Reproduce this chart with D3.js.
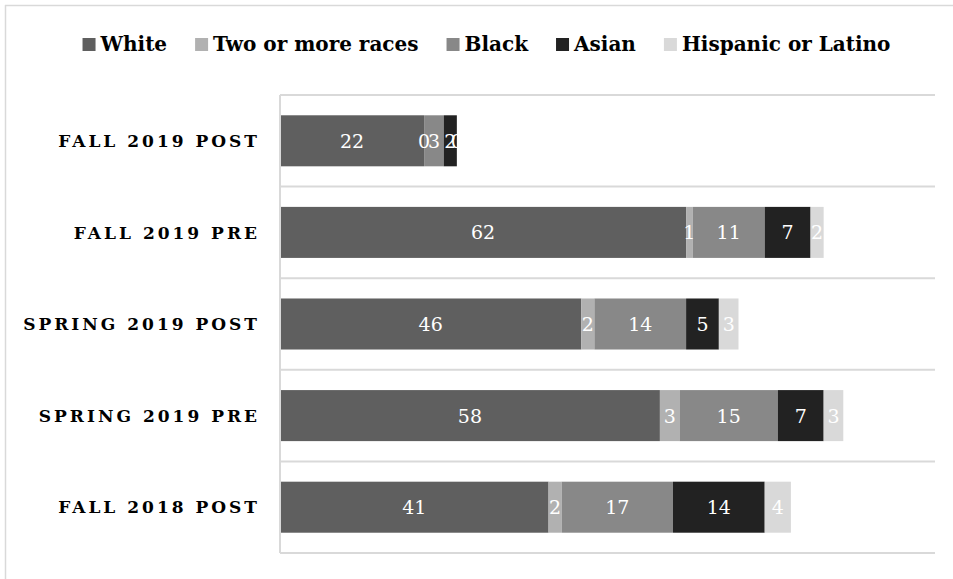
<!DOCTYPE html>
<html><head><meta charset="utf-8">
<script src="https://cdn.jsdelivr.net/npm/d3@7"></script>
<style>html,body{margin:0;padding:0;background:#fff;}svg{display:block;}</style>
</head><body>
<svg id="chart" width="953" height="579"></svg>
<script>
const categories = ["FALL 2019 POST","FALL 2019 PRE","SPRING 2019 POST","SPRING 2019 PRE","FALL 2018 POST"];
const seriesNames = ["White","Two or more races","Black","Asian","Hispanic or Latino"];
const white    = [22, 62, 46, 58, 41];
const twoOrMore= [0, 1, 2, 3, 2];
const black    = [3, 11, 14, 15, 17];
const asian    = [2, 7, 5, 7, 14];
const hispanic = [0, 2, 3, 3, 4];
const colors = ["#5f5f5f","#b1b1b1","#888888","#222222","#d9d9d9"];

const seriesValues = [white, twoOrMore, black, asian, hispanic];
const table = categories.map((c,i)=>{
  const o = {cat:c};
  seriesNames.forEach((s,j)=>o[s]=seriesValues[j][i]);
  return o;
});
const stacked = d3.stack().keys(seriesNames)(table);

const svg = d3.select("#chart");
// outer chart border (partially visible)
svg.append("line").attr("x1",5.5).attr("x2",5.5).attr("y1",5).attr("y2",579).attr("stroke","#d9d9d9").attr("stroke-width",1.5);
svg.append("line").attr("x1",5).attr("x2",953).attr("y1",5.5).attr("y2",5.5).attr("stroke","#d9d9d9").attr("stroke-width",1.5);

const x = d3.scaleLinear().domain([0,100]).range([280,935]);
const y = d3.scaleBand().domain(categories).range([95,553]).paddingInner(0.443).paddingOuter(0.2215);

// gridlines between categories
const step = y.step();
const gridYs = d3.range(categories.length+1).map(i=>95 + i*step);
svg.append("g").selectAll("line").data(gridYs).join("line")
  .attr("x1",280).attr("x2",935).attr("y1",d=>d).attr("y2",d=>d)
  .attr("stroke","#d9d9d9").attr("stroke-width",2);

// bars
const g = svg.append("g");
stacked.forEach((s,j)=>{
  g.append("g").attr("fill",colors[j]).selectAll("rect").data(s).join("rect")
    .attr("x",d=>x(d[0])).attr("width",d=>x(d[1])-x(d[0]))
    .attr("y",d=>y(d.data.cat)).attr("height",y.bandwidth());
});
// left axis line
svg.append("line").attr("x1",280).attr("x2",280).attr("y1",95).attr("y2",553).attr("stroke","#d9d9d9").attr("stroke-width",2);

// value labels
stacked.forEach((s,j)=>{
  g.append("g").selectAll("text").data(s).join("text")
    .attr("x",d=>(x(d[0])+x(d[1]))/2)
    .attr("y",d=>y(d.data.cat)+y.bandwidth()/2)
    .attr("text-anchor","middle").attr("dominant-baseline","central")
    .attr("fill","#fff").attr("font-family","DejaVu Serif").attr("font-size",19)
    .text(d=>d[1]-d[0]);
});

// category labels
const yAxis = d3.axisLeft(y).tickSize(0).tickPadding(0);
const ag = svg.append("g").attr("transform","translate(257,0)").call(yAxis);
ag.select(".domain").remove();
ag.selectAll("text").attr("font-family","DejaVu Serif").attr("font-weight","bold")
  .attr("font-size",17).attr("fill","#000").style("letter-spacing","3px").attr("dy","0.36em")
  .attr("dx","3px");

// legend
const leg = svg.append("g").attr("font-family","DejaVu Serif").attr("font-weight","bold").attr("font-size",20);
const items = seriesNames.map((n,i)=>{
  const t = leg.append("text").text(n).attr("y",51).attr("fill","#000");
  return {t, w:t.node().getComputedTextLength(), i};
});
const sq=13, gap1=5, gap2=28;
const total = d3.sum(items,d=>sq+gap1+d.w) + gap2*(items.length-1);
let cx = 486.5 - total/2;
items.forEach(d=>{
  leg.append("rect").attr("x",cx).attr("y",38).attr("width",sq).attr("height",sq).attr("fill",colors[d.i]);
  d.t.attr("x",cx+sq+gap1);
  cx += sq+gap1+d.w+gap2;
});
</script>
</body></html>
